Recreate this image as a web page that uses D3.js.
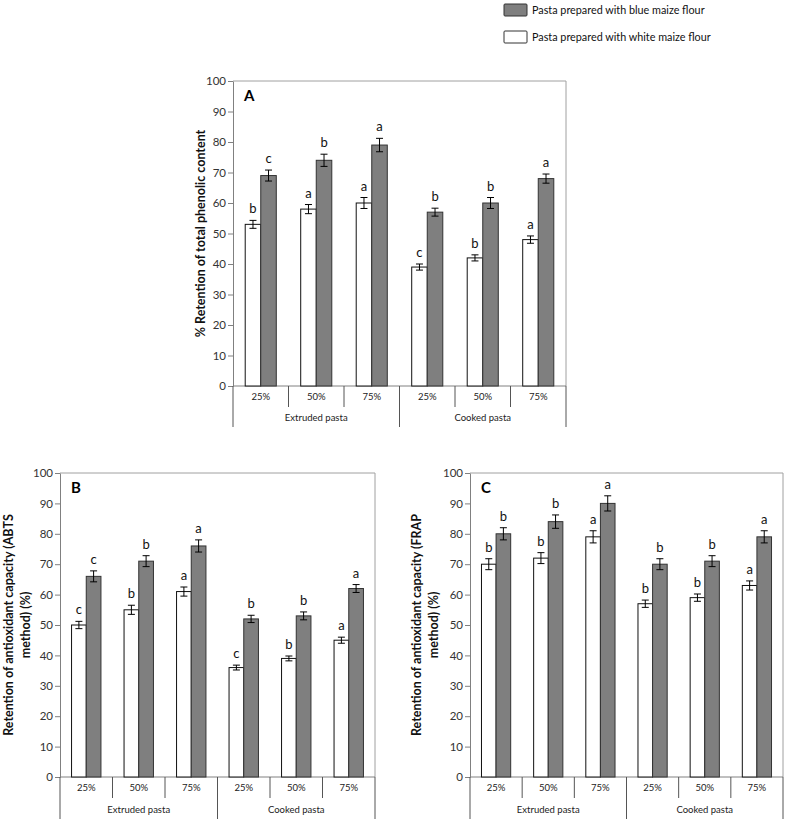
<!DOCTYPE html>
<html>
<head>
<meta charset="utf-8">
<script src="https://cdn.jsdelivr.net/npm/d3@7"></script>
<style>
  body { margin: 0; background: #fff; }
  svg { font-family: Lato, "Open Sans", sans-serif; }
</style>
</head>
<body>
<script>
// categories
var levels = ['25%', '50%', '75%', '25%', '50%', '75%'];
var groups = ['Extruded pasta', 'Cooked pasta'];
var series = ['white', 'blue'];
var yTicks = [0, 10, 20, 30, 40, 50, 60, 70, 80, 90, 100];

// panel A - total phenolic content
var aWhite = [53, 58, 60, 39, 42, 48];
var aBlue = [69, 74, 79, 57, 60, 68];
var aWhiteErr = [1.3, 1.5, 1.8, 1, 1, 1.2];
var aBlueErr = [1.8, 2, 2.2, 1.3, 1.8, 1.5];
var aWhiteLet = ['b', 'a', 'a', 'c', 'b', 'a'];
var aBlueLet = ['c', 'b', 'a', 'b', 'b', 'a'];

// panel B - ABTS
var bWhite = [50, 55, 61, 36, 39, 45];
var bBlue = [66, 71, 76, 52, 53, 62];
var bWhiteErr = [1.2, 1.5, 1.5, 0.8, 0.8, 1];
var bBlueErr = [1.8, 1.8, 2, 1.2, 1.3, 1.3];
var bWhiteLet = ['c', 'b', 'a', 'c', 'b', 'a'];
var bBlueLet = ['c', 'b', 'a', 'b', 'b', 'a'];

// panel C - FRAP
var cWhite = [70, 72, 79, 57, 59, 63];
var cBlue = [80, 84, 90, 70, 71, 79];
var cWhiteErr = [1.8, 1.8, 2, 1.2, 1.2, 1.5];
var cBlueErr = [2, 2.2, 2.5, 1.8, 1.8, 2];
var cWhiteLet = ['b', 'b', 'a', 'b', 'b', 'a'];
var cBlueLet = ['b', 'b', 'a', 'b', 'b', 'a'];

var fillCol = {white: '#ffffff', blue: '#7f7f7f'};

var svg = d3.select('body').append('svg')
  .attr('width', 786)
  .attr('height', 819);

function drawPanel(p) {
  var g = svg.append('g');
  var y = d3.scaleLinear().domain([0, 100]).range([p.zero, p.top]);
  var idx = d3.range(levels.length);
  var x = d3.scaleBand().domain(idx).range([p.left, p.right]);
  var cw = x.bandwidth();
  var xs = d3.scaleBand().domain(series).range([0.22 * cw, 0.78 * cw]);

  // frame (top and right)
  g.append('path')
    .attr('d', 'M' + p.left + ',' + p.top + 'H' + p.right + 'V' + p.zero)
    .attr('fill', 'none').attr('stroke', '#a0a0a0').attr('stroke-width', 1);

  // y axis
  var yAxis = d3.axisLeft(y).tickValues(yTicks).tickSize(5).tickSizeOuter(0);
  var ya = g.append('g').attr('transform', 'translate(' + p.left + ',0)').call(yAxis);
  ya.select('.domain').attr('stroke', '#808080');
  ya.selectAll('.tick line').attr('stroke', '#808080');
  ya.selectAll('.tick text').attr('font-size', 11.5).attr('fill', '#333').attr('x', -7)
    .attr('font-family', 'Lato, sans-serif');

  // category row lines
  g.append('line').attr('x1', p.left).attr('x2', p.right)
    .attr('y1', p.zero).attr('y2', p.zero).attr('stroke', '#808080');
  idx.forEach(function (i) {
    var xx = x(i);
    var full = (i % 3 === 0);
    g.append('line').attr('x1', xx).attr('x2', xx)
      .attr('y1', p.zero).attr('y2', full ? p.row2 : p.row1)
      .attr('stroke', '#555');
  });
  g.append('line').attr('x1', p.right).attr('x2', p.right)
    .attr('y1', p.zero).attr('y2', p.row2).attr('stroke', '#555');

  g.selectAll('.lvl').data(levels).enter().append('text')
    .attr('x', function (d, i) { return x(i) + cw / 2; })
    .attr('y', (p.zero + p.row1) / 2 + 3.5)
    .attr('text-anchor', 'middle').attr('font-size', 9.5).attr('fill', '#222')
    .text(function (d) { return d; });

  g.selectAll('.grp').data(groups).enter().append('text')
    .attr('x', function (d, i) { return x(i * 3) + cw * 1.5; })
    .attr('y', (p.row1 + p.row2) / 2 + 4)
    .attr('text-anchor', 'middle').attr('font-size', 9.5).attr('fill', '#222')
    .text(function (d) { return d; });

  // bars
  var rows = [];
  idx.forEach(function (i) {
    rows.push({i: i, s: 'white', v: p.white[i], e: p.whiteErr[i], l: p.whiteLet[i]});
    rows.push({i: i, s: 'blue', v: p.blue[i], e: p.blueErr[i], l: p.blueLet[i]});
  });

  g.selectAll('.bar').data(rows).enter().append('rect')
    .attr('x', function (d) { return x(d.i) + xs(d.s); })
    .attr('y', function (d) { return y(d.v); })
    .attr('width', xs.bandwidth())
    .attr('height', function (d) { return y(0) - y(d.v); })
    .attr('fill', function (d) { return fillCol[d.s]; })
    .attr('stroke', function (d) { return d.s === 'blue' ? '#333' : '#111'; })
    .attr('stroke-width', 1);

  // error bars
  var eb = g.selectAll('.err').data(rows).enter().append('g');
  eb.each(function (d) {
    var cx = x(d.i) + xs(d.s) + xs.bandwidth() / 2;
    var e = d3.select(this);
    e.append('line').attr('x1', cx).attr('x2', cx)
      .attr('y1', y(d.v - d.e)).attr('y2', y(d.v + d.e)).attr('stroke', '#000');
    [d.v - d.e, d.v + d.e].forEach(function (v) {
      e.append('line').attr('x1', cx - 3.5).attr('x2', cx + 3.5)
        .attr('y1', y(v)).attr('y2', y(v)).attr('stroke', '#000');
    });
    e.append('text').attr('x', cx).attr('y', y(d.v + d.e) - 7)
      .attr('text-anchor', 'middle').attr('font-size', 13).attr('fill', '#111')
      .text(d.l);
  });

  // panel letter
  g.append('text').attr('x', p.left + 11).attr('y', p.top + 20)
    .attr('font-size', 15).attr('font-weight', 'bold').text(p.tag);

  // y title
  var cy = (p.top + p.zero) / 2;
  var t = g.append('text')
    .attr('transform', 'translate(' + p.titleX + ',' + cy + ') rotate(-90)')
    .attr('text-anchor', 'middle').attr('font-size', 12.5).attr('font-weight', 'bold')
    .attr('fill', '#111');
  p.title.forEach(function (line, k) {
    t.append('tspan').attr('x', 0).attr('dy', k === 0 ? 0 : 17).text(line);
  });
}

drawPanel({
  tag: 'A', left: 233, right: 566, top: 81, zero: 386, row1: 407, row2: 427,
  white: aWhite, blue: aBlue, whiteErr: aWhiteErr, blueErr: aBlueErr,
  whiteLet: aWhiteLet, blueLet: aBlueLet,
  title: ['% Retention of total phenolic content'], titleX: 205
});
drawPanel({
  tag: 'B', left: 60, right: 375, top: 473, zero: 777, row1: 798, row2: 819,
  white: bWhite, blue: bBlue, whiteErr: bWhiteErr, blueErr: bBlueErr,
  whiteLet: bWhiteLet, blueLet: bBlueLet,
  title: ['Retention of antioxidant capacity (ABTS', 'method) (%)'], titleX: 13
});
drawPanel({
  tag: 'C', left: 470, right: 783, top: 473, zero: 777, row1: 798, row2: 819,
  white: cWhite, blue: cBlue, whiteErr: cWhiteErr, blueErr: cBlueErr,
  whiteLet: cWhiteLet, blueLet: cBlueLet,
  title: ['Retention of antioxidant capacity (FRAP', 'method) (%)'], titleX: 421
});

// legend
var legend = [
  {s: 'blue', label: 'Pasta prepared with blue maize flour'},
  {s: 'white', label: 'Pasta prepared with white maize flour'}
];
var lg = svg.append('g').attr('transform', 'translate(504,4)');
lg.selectAll('rect').data(legend).enter().append('rect')
  .attr('x', 0).attr('y', function (d, i) { return i * 27; })
  .attr('width', 23).attr('height', 12).attr('rx', 1)
  .attr('fill', function (d) { return fillCol[d.s]; })
  .attr('stroke', '#333');
lg.selectAll('text').data(legend).enter().append('text')
  .attr('x', 28).attr('y', function (d, i) { return i * 27 + 9.5; })
  .attr('font-size', 10.8).attr('fill', '#111')
  .text(function (d) { return d.label; });
</script>
</body>
</html>
